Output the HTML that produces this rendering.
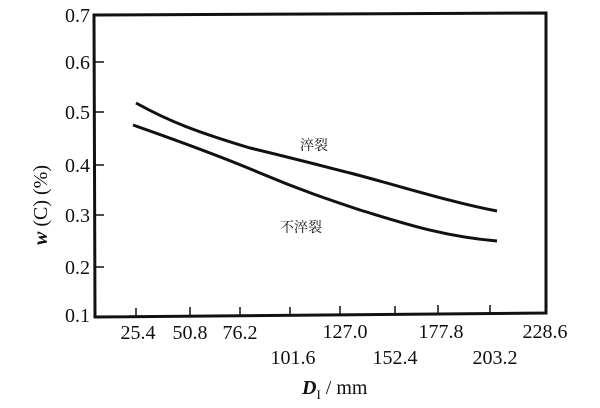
<!DOCTYPE html>
<html><head><meta charset="utf-8"><style>
body{margin:0;background:#fff}
svg{display:block}
text{font-family:"Liberation Serif","Noto Serif CJK SC",serif;fill:#111}
</style></head><body>
<svg width="600" height="408" viewBox="0 0 600 408">
<g stroke="#111" fill="none">
<path d="M94 15 L546 13 L546 313 L95 317 Z" stroke-width="3"/>
<g stroke-width="1.5">
<path d="M94 62h10M94 112h10M94 165h10M94 215h10M94 267h10"/>
<path d="M136 317v-9M190 316v-9M240 316v-9M290 316v-9M340 315v-9M395 315v-9M438 314v-9M490 314v-9"/>
</g>
<path d="M136 103 C170 122 200 133 250 148 C300 160 330 168 350 173 C400 186 450 202 497 211" stroke-width="3"/>
<path d="M133 125 C170 138 220 156 260 173 C300 190 330 200 360 210 C400 222 440 236 497 241" stroke-width="3"/>
</g>
<g font-size="20" text-anchor="end">
<text x="90" y="22">0.7</text><text x="90" y="69">0.6</text><text x="90" y="119">0.5</text>
<text x="90" y="172">0.4</text><text x="90" y="222">0.3</text><text x="90" y="274">0.2</text><text x="90" y="322">0.1</text>
</g>
<g font-size="20" text-anchor="middle">
<text x="138" y="339">25.4</text><text x="190" y="339">50.8</text><text x="240" y="339">76.2</text>
<text x="345" y="338">127.0</text><text x="441" y="338">177.8</text><text x="545" y="338">228.6</text>
<text x="293" y="364">101.6</text><text x="395" y="364">152.4</text><text x="495" y="364">203.2</text>
</g>
<text x="300" y="150" font-size="14">淬裂</text>
<text x="280" y="232" font-size="14">不淬裂</text>
<text x="302" y="394" font-size="20"><tspan font-weight="bold" font-style="italic">D</tspan><tspan font-size="13" dy="5">I</tspan><tspan dy="-5"> / mm</tspan></text>
<text transform="translate(47,205) rotate(-90)" text-anchor="middle" font-size="20"><tspan font-weight="bold" font-style="italic">w</tspan> (C) (%)</text>
</svg>
</body></html>
